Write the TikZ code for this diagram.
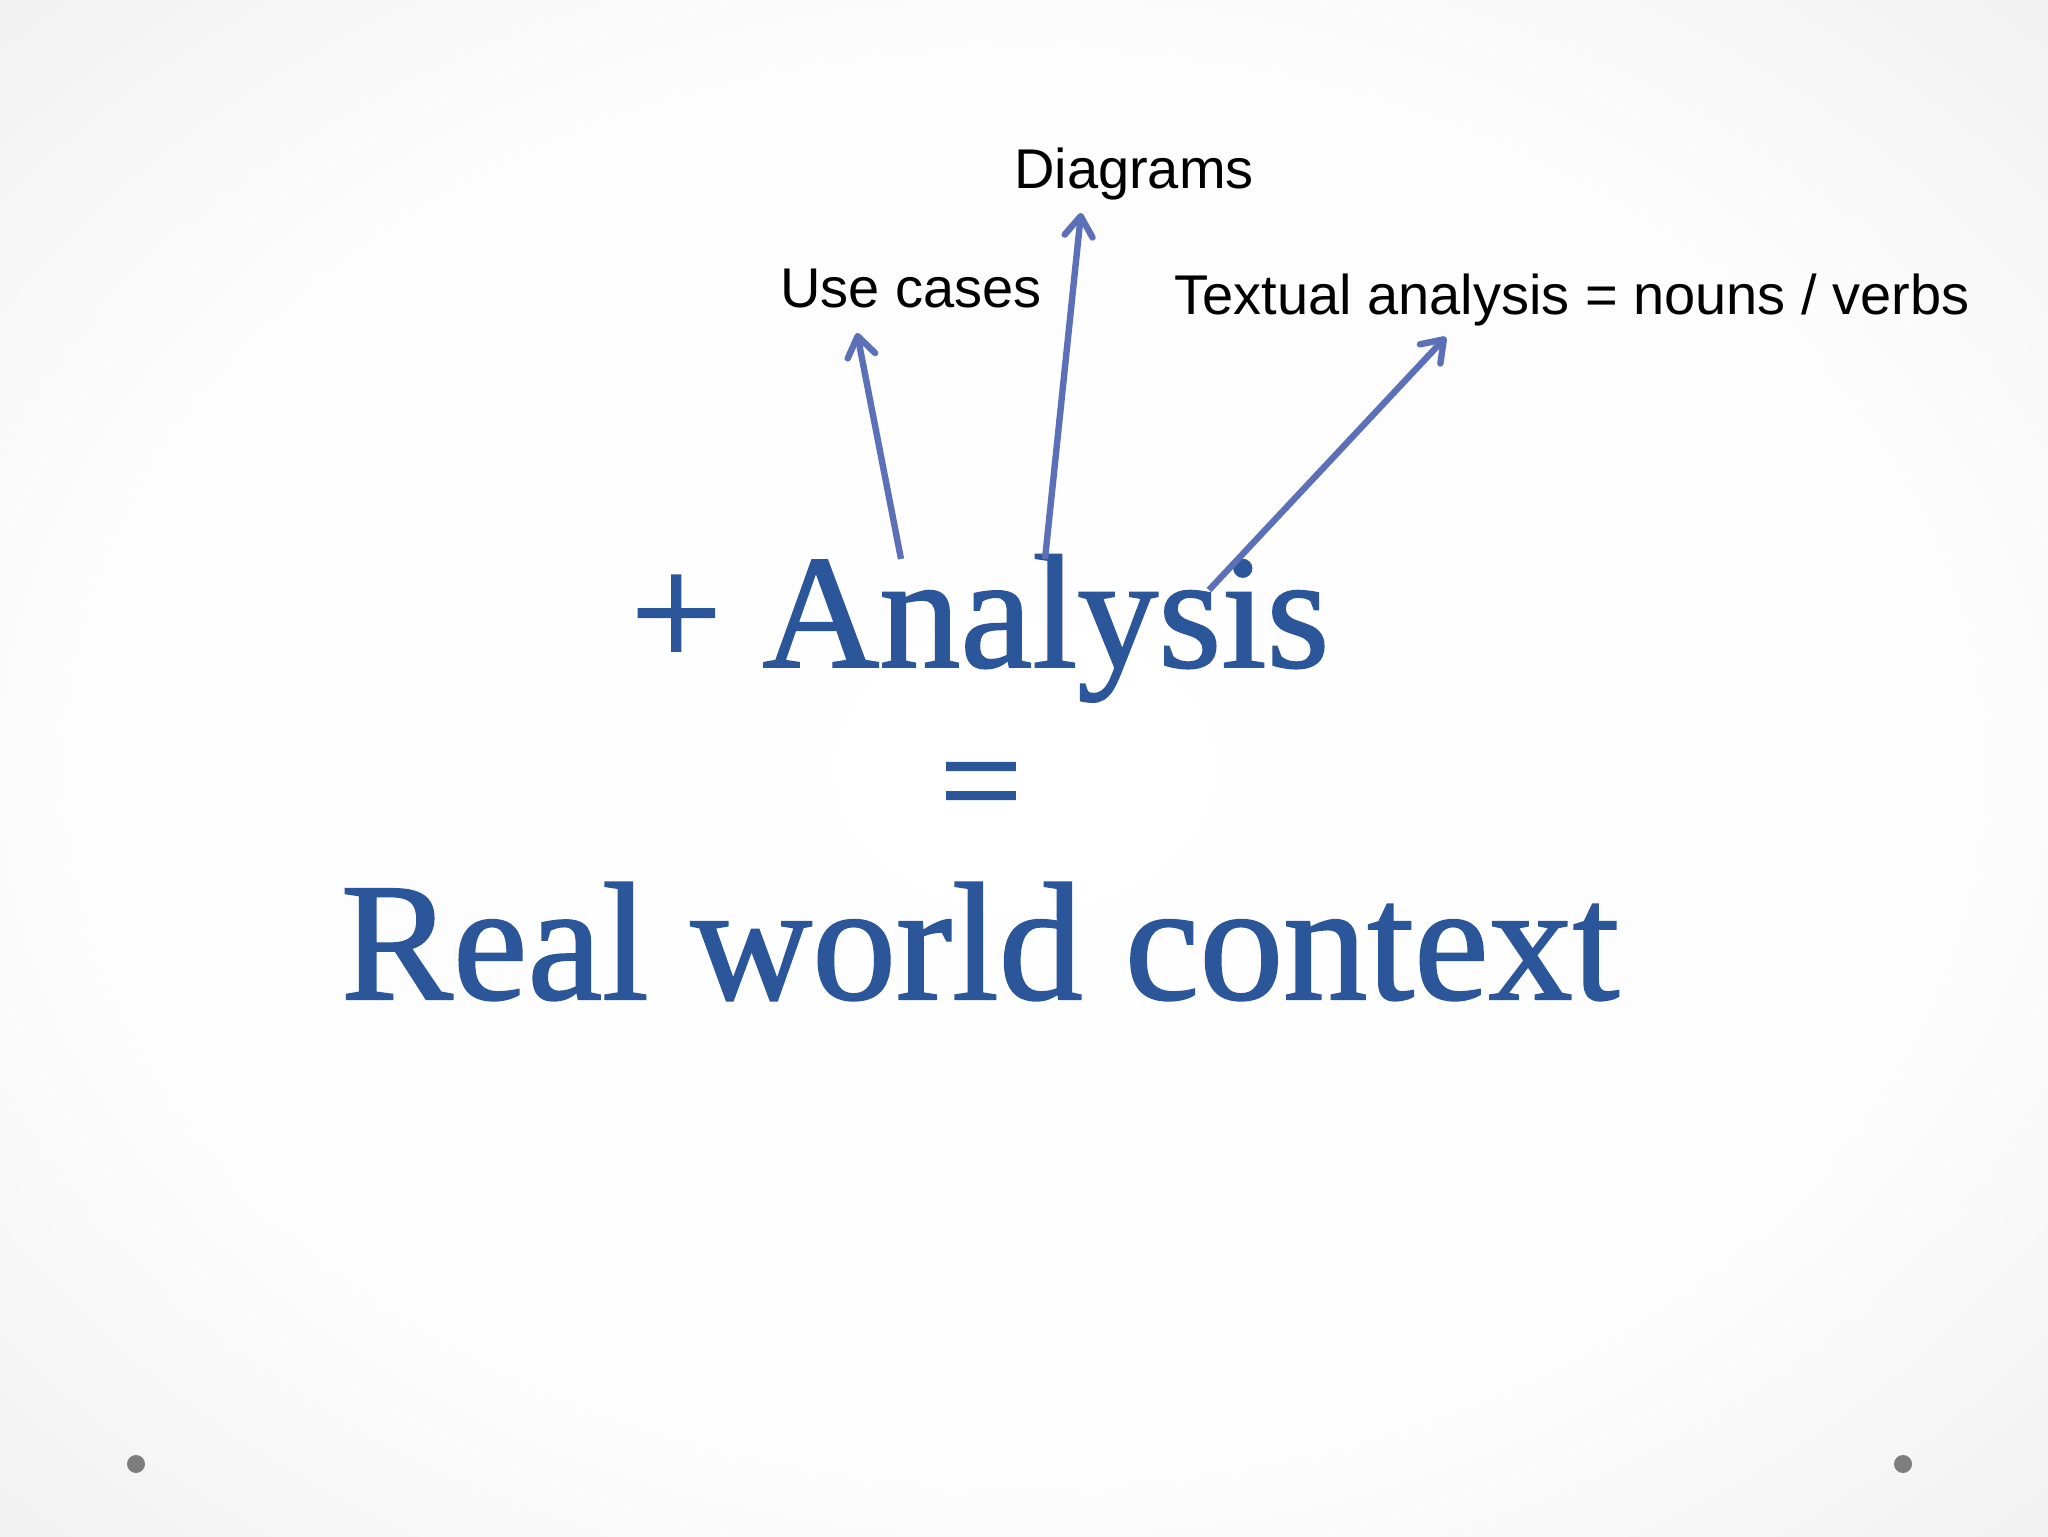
\documentclass[tikz,border=0pt]{standalone}
\usepackage{fontspec}
\setmainfont{Liberation Serif}
\newfontfamily\tagfont{Liberation Sans}
\newfontfamily\heavyfont[FakeBold=1.2]{Liberation Serif}
\usetikzlibrary{arrows.meta}

\definecolor{slideblue}{RGB}{44,86,154}
\definecolor{arrowblue}{RGB}{92,112,184}
\definecolor{dotgray}{RGB}{125,125,125}

\pgfdeclareradialshading{slideshade}{\pgfpoint{0bp}{0bp}}{color(0bp)=(white); color(24bp)=(white!99!black); color(50bp)=(white!89!black); color(71bp)=(white!78!black)}

\tikzset{
  tagtext/.style={font=\tagfont\fontsize{28pt}{32pt}\selectfont, text=black, anchor=base, inner sep=0pt},
  bigtext/.style={font=\heavyfont\fontsize{84pt}{96pt}\selectfont, text=slideblue, anchor=base, inner sep=0pt},
  pointer/.style={draw=arrowblue, line width=3.2pt, line join=round,
    -{Straight Barb[length=10pt,width=14pt,line width=3.2pt,round]}},
  corner/.style={circle, fill=dotgray, inner sep=0pt, minimum size=9pt}
}

\begin{document}
\begin{tikzpicture}[x=0.5pt,y=0.5pt]
    \shade[shading=slideshade] (0,0) rectangle (2048,1536);
    \useasboundingbox (0,0) rectangle (2048,1536);

    % labels on top
    \node[tagtext] (diag) at (1134,1347) {Diagrams};
    \node[tagtext] (uc) at (911,1228) {Use cases};
    \node[tagtext] (text) at (1572,1221) {Textual analysis = nouns / verbs};

    % the big words
    \node[bigtext, font=\heavyfont\fontsize{81pt}{92pt}\selectfont] (analysis) at (980,869) {+ Analysis};
    \node[bigtext, font=\heavyfont\fontsize{73pt}{84pt}\selectfont, anchor=mid] (eq) at (981,711) {=};
    \node[bigtext] (real) at (980,537) {Real world context};

    % arrows
    \coordinate (ucfoot) at (901,977);
    \coordinate (uctip) at (857,1203);
    \coordinate (diagfoot) at (1045,977);
    \coordinate (diagtip) at (1081,1323);
    \coordinate (textfoot) at (1209,946);
    \coordinate (texttip) at (1446,1199);
    \draw[pointer] (ucfoot) -- (uctip);
    \draw[pointer] (diagfoot) -- (diagtip);
    \draw[pointer] (textfoot) -- (texttip);

    % slide dots
    \node[corner] (dotl) at (136,72) {};
    \node[corner] (dotr) at (1903,72) {};
\end{tikzpicture}
\end{document}
